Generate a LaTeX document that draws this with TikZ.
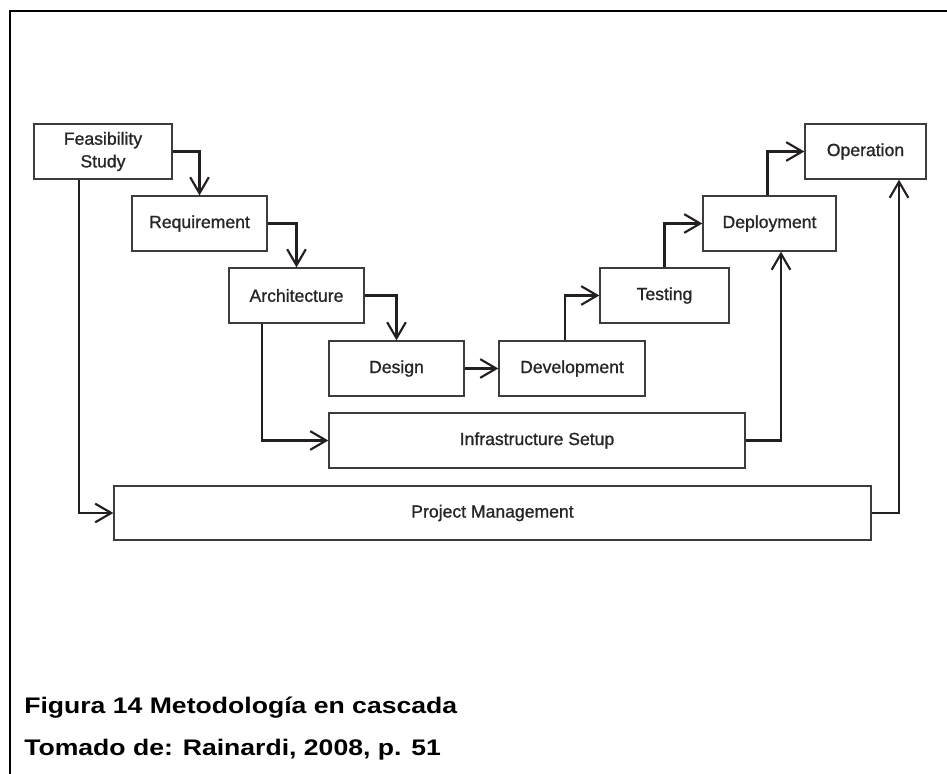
\documentclass[tikz,border=0pt]{standalone}
\usepackage{fontspec}
\setmainfont{Liberation Sans}
\usetikzlibrary{arrows.meta,calc}

\definecolor{ink}{HTML}{231F20}
\definecolor{boxline}{HTML}{3C3C3C}
\definecolor{boxtext}{HTML}{262626}

\tikzset{
  phase/.style={draw=boxline, line width=1pt, rectangle, inner sep=0pt,
    minimum height=41.25pt, text=boxtext, align=center,
    font=\addfontfeatures{FakeBold=1.1}\fontsize{13.2pt}{17pt}\selectfont},
  flow/.style={draw=ink, line width=2pt, line join=miter,
    -{Straight Barb[length=12pt, width=14pt, line width=1.6pt]}},
  caption/.style={anchor=base west, inner sep=0pt, text=black,
    font=\bfseries\fontsize{16.9pt}{20pt}\selectfont}
}

\begin{document}
\begin{tikzpicture}[x=0.75pt, y=-0.75pt]
  \useasboundingbox (0,0) rectangle (947,774);
  \clip (0,0) rectangle (947,774);

  % page frame (top and left edges)
  \draw[line width=1.8pt, black] (10,790) -- (10,11) -- (960,11);

  % phases
  \node[phase, minimum width=103.5pt] (feas)   at (103,151.5)   {Feasibility\\Study};
  \node[phase, minimum width=101.25pt] (req)   at (199.5,223.5) {Requirement};
  \node[phase, minimum width=101.25pt] (arch)  at (296.5,295.5) {Architecture};
  \node[phase, minimum width=101.25pt] (design) at (396.5,368.5) {Design};
  \node[phase, minimum width=109.5pt] (dev)    at (572,368.5)   {Development};
  \node[phase, minimum width=96.75pt] (test)   at (664.5,295.5) {Testing};
  \node[phase, minimum width=99.75pt] (deploy) at (769.5,223.5) {Deployment};
  \node[phase, minimum width=90.75pt] (oper)   at (865.5,151.5) {Operation};
  \node[phase, minimum width=312pt]   (infra)  at (537,440.5)   {Infrastructure Setup};
  \node[phase, minimum width=567.75pt, minimum height=40.5pt] (pm) at (492.5,513) {Project Management};

  % cascade steps
  \draw[flow] (feas.east) -| (req.north);
  \draw[flow] (req.east) -| (arch.north);
  \draw[flow] (arch.east) -| (design.north);
  \draw[flow] (design.east) -- (dev.west);
  \draw[flow] ($(dev.north)+(-7,0)$) |- (test.west);
  \draw[flow] (test.north) |- (deploy.west);
  \draw[flow] ($(deploy.north)+(-2,0)$) |- (oper.west);

  % supporting tracks
  \draw[flow] ($(feas.south)+(-24,0)$) |- (pm.west);
  \draw[flow] ($(arch.south)+(-34.5,0)$) |- (infra.west);
  \draw[flow] (infra.east) -| ($(deploy.south)+(11.5,0)$);
  \draw[flow] (pm.east) -| ($(oper.south)+(33.5,0)$);

  % caption
  \node[caption] (fig) at (24,713) {\scalebox{1.18}[1]{Figura 14 Metodología en cascada}};
  \node[caption] (src) at (24,755) {\scalebox{1.18}[1]{Tomado de: Rainardi, 2008, p. 51}};
\end{tikzpicture}
\end{document}
